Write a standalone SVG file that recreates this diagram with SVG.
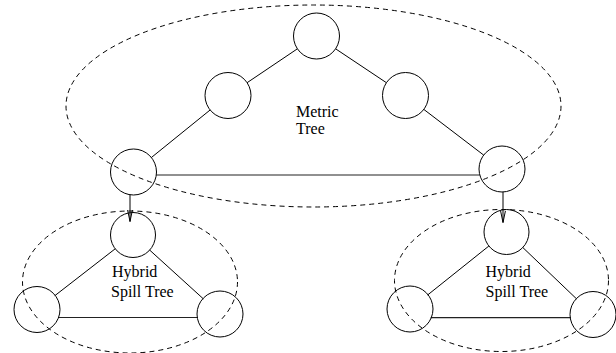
<svg xmlns="http://www.w3.org/2000/svg" width="616" height="353" viewBox="0 0 616 353">
<style>
.node{fill:none;stroke:#000;stroke-width:1}
.edge{fill:none;stroke:#000;stroke-width:1}
.base{fill:none;stroke:#222;stroke-width:1.2}
.group{fill:none;stroke:#000;stroke-width:1;stroke-dasharray:5,4}
.lbl{font-family:"Liberation Serif","Times New Roman",serif;font-size:16px;fill:#000}
</style>
<defs>
<marker id="arr" markerUnits="userSpaceOnUse" markerWidth="14" markerHeight="10" refX="12" refY="4" orient="auto">
<path d="M0,1.5 L12,4 L0,6.5" fill="none" stroke="#000" stroke-width="1"/>
</marker>
</defs>
<g id="groups">
<ellipse id="metric-tree" class="group" cx="313.5" cy="106" rx="247.5" ry="101"/>
<ellipse id="hybrid-left" class="group" cx="130" cy="282" rx="107.5" ry="71"/>
<ellipse id="hybrid-right" class="group" cx="501.5" cy="280.5" rx="107" ry="71"/>
</g>
<g id="connectors">
<line class="edge" x1="297.4" y1="48.8" x2="247.1" y2="82.7"/>
<line class="edge" x1="335.6" y1="48.8" x2="386.4" y2="82.7"/>
<line class="edge" x1="210.1" y1="110" x2="151.4" y2="157.5"/>
<line class="edge" x1="423.8" y1="109.4" x2="483.7" y2="155.1"/>
<line class="base" x1="156.3" y1="175" x2="479.8" y2="175"/>
<line class="edge" x1="130" y1="194.7" x2="130" y2="221.5" marker-end="url(#arr)"/>
<line class="edge" x1="503" y1="191.8" x2="503" y2="222.5" marker-end="url(#arr)"/>
<line class="edge" x1="115.2" y1="248.8" x2="54.8" y2="295.7"/>
<line class="edge" x1="149.7" y1="250.1" x2="203.4" y2="298.9"/>
<line class="base" x1="58" y1="317.5" x2="197.8" y2="317.5"/>
<line class="edge" x1="488.9" y1="246" x2="427.6" y2="295"/>
<line class="edge" x1="522.8" y1="247.5" x2="576.7" y2="299"/>
<line class="base" x1="430.7" y1="317.7" x2="570.7" y2="317.7"/>
</g>
<g id="m-root"><circle class="node" cx="316.5" cy="36" r="23"/></g>
<g id="m-left"><circle class="node" cx="228" cy="95.5" r="23"/></g>
<g id="m-right"><circle class="node" cx="405.5" cy="95.5" r="23"/></g>
<g id="m-leaf-left"><circle class="node" cx="133.5" cy="172" r="23"/></g>
<g id="m-leaf-right"><circle class="node" cx="502" cy="169" r="23"/></g>
<g id="hl-top"><circle class="node" cx="133" cy="235" r="22.5"/></g>
<g id="hl-left"><circle class="node" cx="37" cy="309.5" r="23"/></g>
<g id="hl-right"><circle class="node" cx="220" cy="314" r="23"/></g>
<g id="hr-top"><circle class="node" cx="506.5" cy="232" r="22.5"/></g>
<g id="hr-left"><circle class="node" cx="410" cy="309" r="23"/></g>
<g id="hr-right"><circle class="node" cx="593" cy="314.5" r="23"/></g>
<g id="labels">
<text class="lbl" x="296" y="117">Metric</text>
<text class="lbl" x="296" y="134">Tree</text>
<text class="lbl" x="112" y="277">Hybrid</text>
<text class="lbl" x="111" y="297">Spill Tree</text>
<text class="lbl" x="485.5" y="277">Hybrid</text>
<text class="lbl" x="485.5" y="297">Spill Tree</text>
</g>
</svg>
